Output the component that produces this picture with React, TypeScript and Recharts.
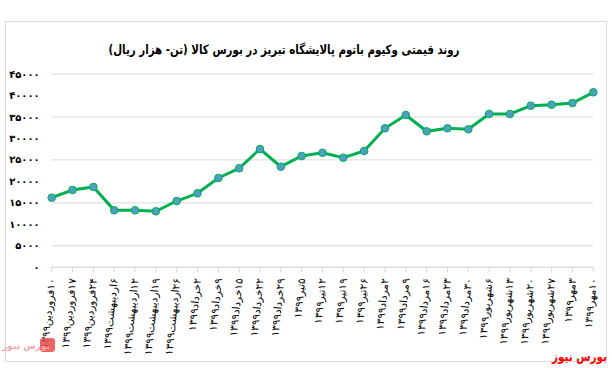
import React from 'react';
import { LineChart, Line, XAxis, YAxis, CartesianGrid } from 'recharts';

const dates = [
  '۱۰فروردین۱۳۹۹', '۱۷فروردین۱۳۹۹', '۲۴فروردین۱۳۹۹', '۶اردیبهشت۱۳۹۹', '۱۲اردیبهشت۱۳۹۹',
  '۱۹اردیبهشت۱۳۹۹', '۲۶اردیبهشت۱۳۹۹', '۲خرداد۱۳۹۹', '۹خرداد۱۳۹۹', '۱۵خرداد۱۳۹۹',
  '۲۲خرداد۱۳۹۹', '۲۹خرداد۱۳۹۹', '۵تیر۱۳۹۹', '۱۲تیر۱۳۹۹', '۱۹تیر۱۳۹۹',
  '۲۶تیر۱۳۹۹', '۲مرداد۱۳۹۹', '۹مرداد۱۳۹۹', '۱۶مرداد۱۳۹۹', '۲۳مرداد۱۳۹۹',
  '۳۰مرداد۱۳۹۹', '۶شهریور۱۳۹۹', '۱۳شهریور۱۳۹۹', '۲۰شهریور۱۳۹۹', '۲۷شهریور۱۳۹۹',
  '۳مهر۱۳۹۹', '۱۰مهر۱۳۹۹',
];

const prices = [
  16200, 18000, 18700, 13270, 13270, 13040, 15430, 17230, 20790, 23050,
  27540, 23420, 25910, 26650, 25520, 27080, 32360, 35460, 31660, 32360,
  32130, 35690, 35690, 37620, 37850, 38250, 40740,
];

const yTicks = [0, 5000, 10000, 15000, 20000, 25000, 30000, 35000, 40000, 45000];

const title = 'روند قیمتی وکیوم باتوم پالایشگاه تبریز در بورس کالا (تن- هزار ریال)';
const brand = 'بورس نیوز';

const data = dates.map((d, i) => ({ date: d, price: prices[i] }));

const faDigits = '۰۱۲۳۴۵۶۷۸۹';
const toFa = (n: number) => String(n).replace(/\d/g, (c) => faDigits[Number(c)]);

const FONT = '"DejaVu Sans", sans-serif';

const XTick = (props: any) => {
  const { x, y, payload } = props;
  return (
    <g transform={`translate(${x},${y})`}>
      <text
        x={0}
        y={0}
        dy="0.35em"
        transform="rotate(-84)"
        textAnchor="end"
        fontSize={10.5}
        fontFamily={FONT}
        fill="#000"
      >
        {'\u202B' + payload.value + '\u202C'}
      </text>
    </g>
  );
};

export default function App() {
  return (
    <div style={{ position: 'absolute', left: 0, top: 0, width: 612, height: 368, background: '#fff' }}>
      <LineChart
        width={612}
        height={368}
        data={data}
        margin={{ top: 74, right: 18.7, bottom: 0, left: 0 }}
      >
        <CartesianGrid vertical={false} stroke="#d9d9d9" />
        <XAxis
          dataKey="date"
          interval={0}
          height={100.7}
          axisLine={{ stroke: '#d9d9d9' }}
          tickLine={{ stroke: '#d9d9d9' }}
          tickSize={5}
          tickMargin={6}
          tick={<XTick />}
        />
        <YAxis
          width={51.7}
          domain={[0, 45000]}
          ticks={yTicks}
          axisLine={false}
          tickLine={false}
          tickSize={0}
          tickMargin={12}
          tickFormatter={(v: number) => toFa(v)}
          tick={{ fontSize: 10, fontFamily: FONT, fontWeight: 'bold', fill: '#000' }}
        />
        <Line
          type="linear"
          dataKey="price"
          stroke="#00b050"
          strokeWidth={3}
          dot={{ r: 3.8, fill: '#4f9fc4', stroke: '#00b050', strokeWidth: 1 }}
          isAnimationActive={false}
        />
      </LineChart>
      <svg
        width={612}
        height={368}
        style={{ position: 'absolute', left: 0, top: 0, pointerEvents: 'none' }}
      >
        <rect x={5.5} y={21.5} width={601} height={340} fill="none" stroke="#d9d9d9" />
        <g transform="translate(284,54) scale(0.79,1)">
          <text
            x={0}
            y={0}
            textAnchor="middle"
            direction="rtl"
            fontSize={13}
            fontWeight="bold"
            fontFamily={FONT}
            fill="#000"
          >
            {title}
          </text>
        </g>
        <rect x={40} y={338} width={15} height={14} rx={3} fill="#e84a4a" opacity={0.85} />
        <text x={26} y={349} textAnchor="middle" fontSize={9} fontWeight="bold" fontFamily={FONT} fill="#f4a5a5">
          {brand}
        </text>
        <g transform="translate(607,361) scale(0.8,1)">
          <text
            x={0}
            y={0}
            textAnchor="end"
            fontSize={13}
            fontWeight="bold"
            fontFamily={FONT}
            fill="#ff0000"
          >
            {brand}
          </text>
        </g>
      </svg>
    </div>
  );
}
